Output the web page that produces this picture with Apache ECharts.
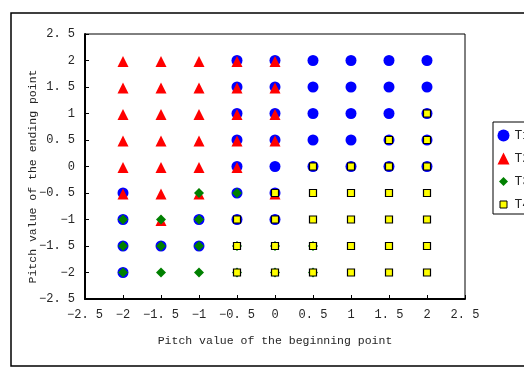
<!DOCTYPE html>
<html>
<head>
<meta charset="utf-8">
<script src="https://cdn.jsdelivr.net/npm/echarts@6/dist/echarts.min.js"></script>
<style>
  html, body { margin: 0; padding: 0; background: #fff; }
  #chart { width: 524px; height: 367px; }
</style>
</head>
<body>
<div id="chart"></div>
<script>
// Axis ticks (pitch values)
const xTicks = [-2.5, -2, -1.5, -1, -0.5, 0, 0.5, 1, 1.5, 2, 2.5];
const yTicks = [-2.5, -2, -1.5, -1, -0.5, 0, 0.5, 1, 1.5, 2, 2.5];

// Series names
const seriesNames = ['T1', 'T2', 'T3', 'T4'];

// [beginning pitch, ending pitch] pairs for each tone class
const t1Points = [
  [-0.5, 2], [0, 2], [0.5, 2], [1, 2], [1.5, 2], [2, 2],
  [-0.5, 1.5], [0, 1.5], [0.5, 1.5], [1, 1.5], [1.5, 1.5], [2, 1.5],
  [-0.5, 1], [0, 1], [0.5, 1], [1, 1], [1.5, 1], [2, 1],
  [-0.5, 0.5], [0, 0.5], [0.5, 0.5], [1, 0.5], [1.5, 0.5], [2, 0.5],
  [-0.5, 0], [0, 0], [0.5, 0], [1, 0], [1.5, 0], [2, 0],
  [-2, -0.5], [-0.5, -0.5], [0, -0.5],
  [-2, -1], [-1, -1], [-0.5, -1], [0, -1],
  [-2, -1.5], [-1.5, -1.5], [-1, -1.5],
  [-2, -2]
];
const t2Points = [
  [-2, 2], [-1.5, 2], [-1, 2], [-0.5, 2], [0, 2],
  [-2, 1.5], [-1.5, 1.5], [-1, 1.5], [-0.5, 1.5], [0, 1.5],
  [-2, 1], [-1.5, 1], [-1, 1], [-0.5, 1], [0, 1],
  [-2, 0.5], [-1.5, 0.5], [-1, 0.5], [-0.5, 0.5], [0, 0.5],
  [-2, 0], [-1.5, 0], [-1, 0], [-0.5, 0],
  [-2, -0.5], [-1.5, -0.5], [-1, -0.5], [0, -0.5],
  [-1.5, -1]
];
const t3Points = [
  [-1, -0.5], [-0.5, -0.5],
  [-2, -1], [-1.5, -1], [-1, -1],
  [-2, -1.5], [-1.5, -1.5], [-1, -1.5], [-0.5, -1.5], [0, -1.5], [0.5, -1.5],
  [-2, -2], [-1.5, -2], [-1, -2], [-0.5, -2], [0, -2], [0.5, -2]
];
const t4Points = [
  [2, 1],
  [1.5, 0.5], [2, 0.5],
  [0.5, 0], [1, 0], [1.5, 0], [2, 0],
  [0, -0.5], [0.5, -0.5], [1, -0.5], [1.5, -0.5], [2, -0.5],
  [-0.5, -1], [0, -1], [0.5, -1], [1, -1], [1.5, -1], [2, -1],
  [-0.5, -1.5], [0, -1.5], [0.5, -1.5], [1, -1.5], [1.5, -1.5], [2, -1.5],
  [-0.5, -2], [0, -2], [0.5, -2], [1, -2], [1.5, -2], [2, -2]
];

const FONT = '"Liberation Mono", "DejaVu Sans Mono", monospace';
const TEXT = '#262626';

// legend icons drawn inside a 12x12 box so that smaller shapes keep their size
const ICON_SMALL_DIAMOND = 'path://M0,0M12,12M6,1.5L10.5,6L6,10.5L1.5,6Z';
const ICON_SMALL_SQUARE = 'path://M0,0M12,12M2.5,2.5L9.5,2.5L9.5,9.5L2.5,9.5Z';

function fmt(v) {
  // labels written with a space after the decimal point, e.g. "2. 5"
  return String(v).replace('.', '. ').replace('-', '\u2212');
}

const chart = echarts.init(document.getElementById('chart'), null, { renderer: 'canvas' });

function valueAxis(ticks, name, gap, namePadding) {
  return {
    type: 'value',
    min: ticks[0],
    max: ticks[ticks.length - 1],
    interval: ticks[1] - ticks[0],
    name: name,
    nameLocation: 'middle',
    nameGap: gap,
    nameMoveOverlap: false,
    nameTextStyle: { fontFamily: FONT, fontSize: 11.5, color: TEXT, padding: namePadding },
    axisLine: { show: true, onZero: false, lineStyle: { color: '#000', width: 2 } },
    axisTick: { show: true, inside: true, length: 4, lineStyle: { color: '#000', width: 1 } },
    axisLabel: { fontFamily: FONT, fontSize: 12, color: TEXT, margin: 10, formatter: fmt },
    splitLine: { show: false }
  };
}

chart.setOption({
  animation: false,
  backgroundColor: '#fff',
  graphic: [
    {
      type: 'rect',
      shape: { x: 11, y: 13, width: 540, height: 353 },
      style: { fill: 'none', stroke: '#000', lineWidth: 1.5 },
      z: -1
    },
    {
      type: 'rect',
      shape: { x: 85, y: 34, width: 380, height: 265 },
      style: { fill: 'none', stroke: '#000', lineWidth: 1 },
      z: 0
    }
  ],
  grid: { left: 85, top: 34, right: 59, bottom: 68, containLabel: false },
  xAxis: valueAxis(xTicks, 'Pitch value of the beginning point', 36, 0),
  // title sits a little below the middle of the axis
  yAxis: valueAxis(yTicks, 'Pitch value of the ending point', 46, [0, 20, 0, 0]),
  legend: {
    orient: 'vertical',
    left: 493,
    top: 122,
    padding: [7, 20, 3, 4],
    itemGap: 10,
    itemWidth: 12,
    itemHeight: 12,
    borderColor: '#000',
    borderWidth: 1,
    textStyle: { fontFamily: FONT, fontSize: 13, color: TEXT },
    data: [
      { name: seriesNames[0], icon: 'circle' },
      { name: seriesNames[1], icon: 'triangle' },
      { name: seriesNames[2], icon: ICON_SMALL_DIAMOND },
      { name: seriesNames[3], icon: ICON_SMALL_SQUARE, itemStyle: { borderColor: '#000', borderWidth: 1 } }
    ]
  },
  series: [
    {
      name: seriesNames[0], type: 'scatter', data: t1Points,
      symbol: 'circle', symbolSize: 11,
      itemStyle: { color: '#0000ff', opacity: 1 }, z: 2
    },
    {
      name: seriesNames[1], type: 'scatter', data: t2Points,
      symbol: 'triangle', symbolSize: [11, 11],
      symbolOffset: [0, 1],
      itemStyle: { color: '#ff0000', opacity: 1 }, z: 3
    },
    {
      name: seriesNames[2], type: 'scatter', data: t3Points,
      symbol: 'diamond', symbolSize: 10,
      itemStyle: { color: '#008000', opacity: 1 }, z: 4
    },
    {
      name: seriesNames[3], type: 'scatter', data: t4Points,
      symbol: 'rect', symbolSize: 7,
      itemStyle: { color: '#ffff00', borderColor: '#000', borderWidth: 1.2, opacity: 1 }, z: 5
    }
  ]
});
</script>
</body>
</html>
